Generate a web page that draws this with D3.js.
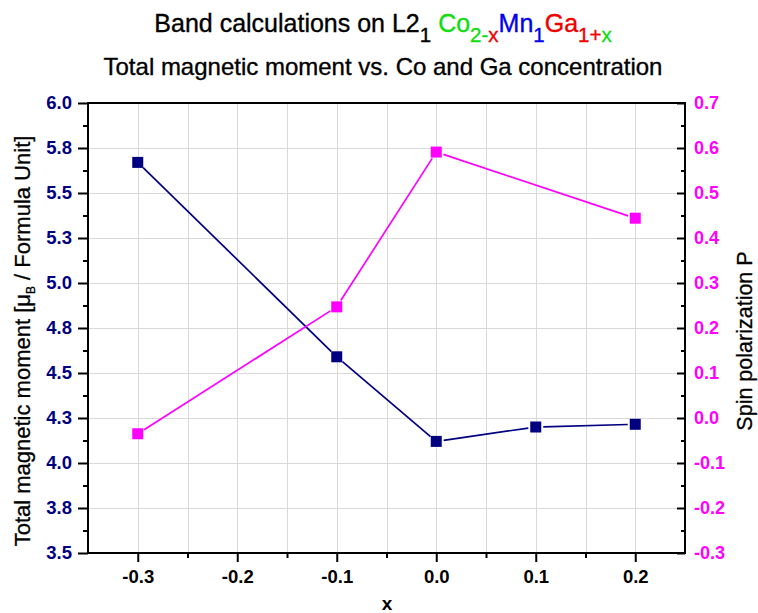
<!DOCTYPE html>
<html>
<head>
<meta charset="utf-8">
<script src="https://cdn.jsdelivr.net/npm/d3@7"></script>
<style>
  html, body { margin: 0; padding: 0; background: #ffffff; }
  svg { display: block; font-family: Arial, "Liberation Sans", Helvetica, sans-serif; }
</style>
</head>
<body>
<svg id="chart" width="758" height="613"></svg>
<script>
// Composition x of Co(2-x)Mn1Ga(1+x)
const xValues = [-0.3, -0.1, 0.0, 0.1, 0.2];
// Total magnetic moment (muB per formula unit)
const momentValues = [5.67, 4.59, 4.12, 4.20, 4.215];
// Spin polarization P (no value at x = 0.1)
const spinX = [-0.3, -0.1, 0.0, 0.2];
const spinValues = [-0.035, 0.247, 0.591, 0.444];

// Axis ticks
const xTicks = [-0.3, -0.2, -0.1, 0.0, 0.1, 0.2];
const xTickLabels = ["-0.3", "-0.2", "-0.1", "0.0", "0.1", "0.2"];
const xMinorTicks = [-0.25, -0.15, -0.05, 0.05, 0.15];
const leftTicks = [3.5, 3.75, 4.0, 4.25, 4.5, 4.75, 5.0, 5.25, 5.5, 5.75, 6.0];
const leftTickLabels = ["3.5", "3.8", "4.0", "4.3", "4.5", "4.8", "5.0", "5.3", "5.5", "5.8", "6.0"];
const leftMinorTicks = [3.625, 3.875, 4.125, 4.375, 4.625, 4.875, 5.125, 5.375, 5.625, 5.875];
const rightTicks = [-0.3, -0.2, -0.1, 0.0, 0.1, 0.2, 0.3, 0.4, 0.5, 0.6, 0.7];
const rightTickLabels = ["-0.3", "-0.2", "-0.1", "0.0", "0.1", "0.2", "0.3", "0.4", "0.5", "0.6", "0.7"];
const rightMinorTicks = [-0.25, -0.15, -0.05, 0.05, 0.15, 0.25, 0.35, 0.45, 0.55, 0.65];

const NAVY = "#000080";
const MAGENTA = "#ff00ff";

const svg = d3.select("#chart");
svg.append("rect").attr("width", 758).attr("height", 613).attr("fill", "#ffffff");

const plot = { left: 88, right: 685, top: 103, bottom: 553 };

const x = d3.scaleLinear().domain([-0.35, 0.25]).range([plot.left, plot.right]);
const yL = d3.scaleLinear().domain([3.5, 6.0]).range([plot.bottom, plot.top]);
const yR = d3.scaleLinear().domain([-0.3, 0.7]).range([plot.bottom, plot.top]);

// Grid
const grid = svg.append("g").attr("stroke", "#d9d9d9").attr("stroke-width", 1);
xTicks.concat(xMinorTicks).forEach(v => {
  grid.append("line")
    .attr("x1", Math.round(x(v)) + 0.5).attr("x2", Math.round(x(v)) + 0.5)
    .attr("y1", plot.top).attr("y2", plot.bottom);
});
leftTicks.slice(1, -1).forEach(v => {
  grid.append("line")
    .attr("x1", plot.left).attr("x2", plot.right)
    .attr("y1", Math.round(yL(v)) + 0.5).attr("y2", Math.round(yL(v)) + 0.5);
});

// Series lines, stopping short of each marker
function drawSeries(xs, ys, yScale, color) {
  const gap = 7.5;
  const pts = xs.map((v, i) => [x(v), yScale(ys[i])]);
  const g = svg.append("g");
  for (let i = 0; i < pts.length - 1; i++) {
    const [x0, y0] = pts[i], [x1, y1] = pts[i + 1];
    const len = Math.hypot(x1 - x0, y1 - y0);
    const ux = (x1 - x0) / len, uy = (y1 - y0) / len;
    g.append("line")
      .attr("x1", x0 + ux * gap).attr("y1", y0 + uy * gap)
      .attr("x2", x1 - ux * gap).attr("y2", y1 - uy * gap)
      .attr("stroke", color).attr("stroke-width", 1.7);
  }
  g.selectAll("rect.pt").data(pts).enter().append("rect")
    .attr("class", "pt")
    .attr("x", d => d[0] - 5.5).attr("y", d => d[1] - 5.5)
    .attr("width", 11).attr("height", 11)
    .attr("fill", color);
}
drawSeries(xValues, momentValues, yL, NAVY);
drawSeries(spinX, spinValues, yR, MAGENTA);

// Frame
svg.append("rect")
  .attr("x", plot.left).attr("y", plot.top)
  .attr("width", plot.right - plot.left).attr("height", plot.bottom - plot.top)
  .attr("fill", "none").attr("stroke", "#000").attr("stroke-width", 2);

function styleAxis(g, color, size) {
  g.select(".domain").remove();
  g.selectAll(".tick line").attr("stroke", "#000").attr("stroke-width", 2);
  g.selectAll(".tick text")
    .attr("fill", color)
    .style("font-size", (size || 18) + "px")
    .style("font-weight", "bold")
    .style("font-family", "Arial, 'Liberation Sans', sans-serif");
}

// Bottom axis
const gx = svg.append("g").attr("transform", `translate(0,${plot.bottom})`)
  .call(d3.axisBottom(x).tickValues(xTicks)
    .tickFormat((d, i) => xTickLabels[i]).tickSize(9).tickPadding(8).tickSizeOuter(0));
styleAxis(gx, "#000", 18.5);
svg.append("g").attr("transform", `translate(0,${plot.bottom})`)
  .call(d3.axisBottom(x).tickValues(xMinorTicks).tickFormat("").tickSize(5).tickSizeOuter(0))
  .call(g => styleAxis(g, "#000"));

// Left axis
const gl = svg.append("g").attr("transform", `translate(${plot.left},0)`)
  .call(d3.axisLeft(yL).tickValues(leftTicks)
    .tickFormat((d, i) => leftTickLabels[i]).tickSize(10).tickPadding(6).tickSizeOuter(0));
styleAxis(gl, NAVY, 18.5);
svg.append("g").attr("transform", `translate(${plot.left},0)`)
  .call(d3.axisLeft(yL).tickValues(leftMinorTicks).tickFormat("").tickSize(5).tickSizeOuter(0))
  .call(g => styleAxis(g, NAVY));

// Right axis (ticks point inward)
const gr = svg.append("g").attr("transform", `translate(${plot.right},0)`)
  .call(d3.axisRight(yR).tickValues(rightTicks)
    .tickFormat((d, i) => rightTickLabels[i]).tickSizeInner(-8).tickPadding(9).tickSizeOuter(0));
styleAxis(gr, MAGENTA, 18);
svg.append("g").attr("transform", `translate(${plot.right},0)`)
  .call(d3.axisRight(yR).tickValues(rightMinorTicks).tickFormat("").tickSizeInner(-4).tickSizeOuter(0))
  .call(g => styleAxis(g, MAGENTA));

// Titles
const title1 = svg.append("text")
  .attr("x", 383).attr("y", 32)
  .attr("text-anchor", "middle")
  .style("font-size", "25px").attr("fill", "#000");
const parts = [
  { t: "Band calculations on L2", c: "#000", sub: false },
  { t: "1", c: "#000", sub: true },
  { t: " ", c: "#000", sub: false },
  { t: "Co", c: "#10dd10", sub: false },
  { t: "2-", c: "#10dd10", sub: true },
  { t: "x", c: "#ee0000", sub: true },
  { t: "Mn", c: "#0000ee", sub: false },
  { t: "1", c: "#0000ee", sub: true },
  { t: "Ga", c: "#ee0000", sub: false },
  { t: "1+", c: "#ee0000", sub: true },
  { t: "x", c: "#10dd10", sub: true }
];
let inSub = false;
parts.forEach(p => {
  const shift = p.sub === inSub ? 0 : (p.sub ? 10 : -10);
  inSub = p.sub;
  title1.append("tspan")
    .attr("dy", shift)
    .attr("fill", p.c)
    .attr("stroke", p.c).attr("stroke-width", 0.35)
    .style("font-size", p.sub ? "20.5px" : "25px")
    .style("white-space", "pre")
    .text(p.t);
});

svg.append("text")
  .attr("x", 383).attr("y", 75)
  .attr("text-anchor", "middle")
  .style("font-size", "24px").attr("fill", "#000")
  .attr("stroke", "#000").attr("stroke-width", 0.35)
  .text("Total magnetic moment vs. Co and Ga concentration");

// Axis titles
svg.append("text")
  .attr("x", 387).attr("y", 610)
  .attr("text-anchor", "middle")
  .style("font-size", "19px").style("font-weight", "bold").attr("fill", "#000")
  .text("x");

const yTitle = svg.append("text")
  .attr("transform", "translate(30,341) rotate(-90)")
  .attr("text-anchor", "middle")
  .style("font-size", "22px").attr("fill", "#000")
  .attr("stroke", "#000").attr("stroke-width", 0.3);
yTitle.append("tspan").text("Total magnetic moment [\u03bc");
yTitle.append("tspan").attr("dy", 5).style("font-size", "12px").text("B");
yTitle.append("tspan").attr("dy", -5).text(" / Formula Unit]");

svg.append("text")
  .attr("transform", "translate(752,341) rotate(-90)")
  .attr("text-anchor", "middle")
  .style("font-size", "21.5px").attr("fill", "#000")
  .attr("stroke", "#000").attr("stroke-width", 0.3)
  .text("Spin polarization P");
</script>
</body>
</html>
